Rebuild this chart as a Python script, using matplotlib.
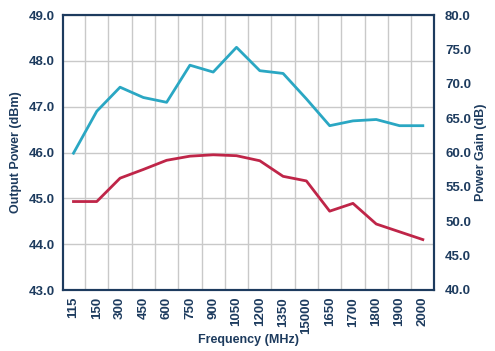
import numpy as np
import matplotlib.pyplot as plt
from matplotlib.ticker import MultipleLocator, FixedLocator, FormatStrFormatter

# frequency points (MHz) - last four labels partly hidden by watermark
freq = ['115', '150', '300', '450', '600', '750', '900', '1050', '1200', '1350',
        '15000', '1650', '1700', '1800', '1900', '2000']

# output power (dBm), left axis
pout = [44.93, 44.93, 45.44, 45.63, 45.83, 45.92, 45.95, 45.93, 45.82, 45.48,
        45.38, 44.72, 44.89, 44.44, 44.27, 44.10]

# power gain (dB), right axis
gain = [59.9, 66.0, 69.5, 68.0, 67.3, 72.7, 71.7, 75.3, 71.9, 71.5,
        67.8, 63.9, 64.6, 64.8, 63.9, 63.9]

navy = '#1d3b5e'
blue = '#2aa7c3'
red = '#bf2548'

plt.rcParams['font.family'] = ['Liberation Sans', 'DejaVu Sans']
plt.rcParams['font.weight'] = 'bold'

fig = plt.figure(figsize=(4.95, 3.51), dpi=100)
ax = fig.add_axes([63 / 495, 1 - 290 / 351, (434 - 63) / 495, (290 - 15) / 351])
ax2 = ax.twinx()

x = np.arange(len(freq))
ax.plot(x, pout, color=red, linewidth=2.0, zorder=3)
ax2.plot(x, gain, color=blue, linewidth=2.0, zorder=3)

ax.set_xlim(-0.45, 15.48)
ax.set_ylim(43, 49)
ax2.set_ylim(40, 80)

ax.yaxis.set_major_locator(MultipleLocator(1.0))
ax.yaxis.set_major_formatter(FormatStrFormatter('%.1f'))
ax2.yaxis.set_major_locator(MultipleLocator(5.0))
ax2.yaxis.set_major_formatter(FormatStrFormatter('%.1f'))
ax.set_xticks(x)
ax.set_xticklabels(freq, rotation=90)
ax.xaxis.set_minor_locator(FixedLocator(x[:-1] + 0.5))

ax.grid(axis='y', which='major', color='#c9c9c9', linewidth=1.0)
ax.grid(axis='x', which='minor', color='#c9c9c9', linewidth=1.0)
ax.set_axisbelow(True)

for a in (ax, ax2):
    for s in a.spines.values():
        s.set_color(navy)
        s.set_linewidth(1.5)
    a.tick_params(which='both', length=0, labelsize=9.5, labelcolor=navy)
ax.tick_params(axis='y', pad=6)
ax.tick_params(axis='x', pad=5)
ax2.tick_params(axis='y', pad=8)

ax.set_ylabel('Output Power (dBm)', fontsize=9, fontweight='bold', color=navy, labelpad=5)
ax2.set_ylabel('Power Gain (dB)', fontsize=9, fontweight='bold', color=navy, labelpad=3)
ax.set_xlabel('Frequency (MHz)', fontsize=9, fontweight='bold', color=navy, va='center')
ax.xaxis.set_label_coords(0.5, -0.182)

fig.savefig('out.png', dpi=100)
